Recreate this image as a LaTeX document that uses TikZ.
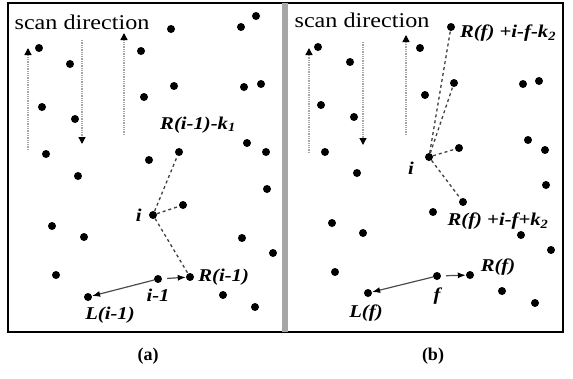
\documentclass[tikz,border=0pt]{standalone}
\usepackage{fontspec}
\setmainfont{Liberation Serif}
\newfontfamily\widefont[FakeStretch=1.15]{Liberation Serif}
\usetikzlibrary{positioning, arrows.meta}

\begin{document}
\begin{tikzpicture}[
                x=1pt, y=-1pt,
                node distance=3pt,
                dot/.style={circle, fill=black, inner sep=0pt, minimum size=8pt},
                lbl/.style={font=\widefont\fontsize{18}{20}\selectfont\bfseries\itshape, inner sep=0pt},
                scanlbl/.style={font=\widefont\fontsize{21}{23}\selectfont, inner sep=0pt},
                caplbl/.style={font=\fontsize{18}{20}\selectfont\bfseries, inner sep=0pt},
                scanarrow/.style={densely dotted, gray!70, line width=1.3pt,
                        -{Triangle[length=7pt, width=7pt, color=black]}},
                link/.style={dashed, line width=1.3pt, gray!50!black},
                jump/.style={line width=1.2pt, gray!60!black, -{Latex[length=8pt, color=black]}}
            ]

            \useasboundingbox (0,0) rectangle (573,378);

            % frames
            \draw[line width=1.5pt] (8,3) rectangle (563,332);
            \draw[line width=6pt, gray!70] (285,3) -- (285,332);

            % panel (a)
            \node[scanlbl] (sa) at (82,22) {scan direction};
            \foreach \p/\n in {(256,16)/a1, (241,27)/a2, (171,29)/a3, (39,48)/a4,
                    (141,51)/a5, (70,64)/a6, (174,86)/a7, (244,87)/a8, (261,84)/a9,
                    (144,97)/a10, (42,107)/a11, (75,119)/a12, (247,143)/a13,
                    (266,152)/a14, (46,154)/a15, (149,160)/a16, (179,152)/ak,
                    (78,176)/a17, (267,189)/a18, (183,205)/a19, (153,215)/ai,
                    (52,226)/a20, (84,237)/a21, (242,238)/a22, (273,253)/a23,
                    (56,275)/a24, (158,279)/aim, (190,277)/ar, (223,295)/a25,
                    (88,297)/al, (255,307)/a26}
                \node[dot] (\n) at \p {};

            \coordinate (as1) at (28,150);  \coordinate (ae1) at (28,48);
            \coordinate (as2) at (82,40);   \coordinate (ae2) at (82,144);
            \coordinate (as3) at (124,135); \coordinate (ae3) at (124,33);
            \draw[scanarrow] (as1) -- (ae1);
            \draw[scanarrow] (as2) -- (ae2);
            \draw[scanarrow] (as3) -- (ae3);

            \draw[link] (ai) -- (ak);
            \draw[link] (ai) -- (a19);
            \draw[link] (ai) -- (ar);
            \draw[jump] (aim) -- (al);
            \draw[jump, shorten <=5pt] (aim) -- (ar);

            \node[lbl] (akl) at (198,125) {R(i-1)-k\textsubscript{1}};
            \node[lbl, left=7pt of ai] (ail) {i};
            \node[lbl, right=4pt of ar] (arl) {R(i-1)};
            \node[lbl, below=6pt of aim] (aiml) {i-1};
            \node[lbl] (all) at (110,315) {L(i-1)};

            % panel (b)
            \node[scanlbl] (sb) at (362,20) {scan direction};
            \foreach \p/\n in {(318,47)/b1, (350,62)/b2, (420,48)/b3, (451,27)/bk1,
                    (454,83)/b4, (523,84)/b5, (539,81)/b6, (321,105)/b7,
                    (354,117)/b8, (425,95)/b9, (325,152)/b10, (528,140)/b11,
                    (545,150)/b12, (459,148)/b13, (429,157)/bi, (357,173)/b14,
                    (546,185)/b15, (463,202)/bk2, (433,212)/b16, (332,223)/b17,
                    (363,233)/b18, (521,235)/b19, (551,250)/b20, (335,272)/b21,
                    (437,276)/bf, (470,275)/br, (502,291)/b22, (368,293)/bl,
                    (535,303)/b23}
                \node[dot] (\n) at \p {};

            \coordinate (bs1) at (309,153); \coordinate (be1) at (309,48);
            \coordinate (bs2) at (363,42);  \coordinate (be2) at (363,145);
            \coordinate (bs3) at (406,135); \coordinate (be3) at (406,35);
            \draw[scanarrow] (bs1) -- (be1);
            \draw[scanarrow] (bs2) -- (be2);
            \draw[scanarrow] (bs3) -- (be3);

            \draw[link] (bi) -- (bk1);
            \draw[link] (bi) -- (b4);
            \draw[link] (bi) -- (b13);
            \draw[link] (bi) -- (bk2);
            \draw[jump] (bf) -- (bl);
            \draw[jump, shorten <=5pt] (bf) -- (br);

            \node[lbl] (bk1l) at (508,33) {R(f) +i-f-k\textsubscript{2}};
            \node[lbl] (bk2l) at (498,221) {R(f) +i-f+k\textsubscript{2}};
            \node[lbl] (bil) at (411,168) {i};
            \node[lbl] (brl) at (498,267) {R(f)};
            \node[lbl, below=7pt of bf] (bfl) {f};
            \node[lbl] (bll) at (366,313) {L(f)};

            % captions
            \node[caplbl] (ca) at (148,356) {(a)};
            \node[caplbl] (cb) at (433,356) {(b)};

        \end{tikzpicture}
\end{document}
